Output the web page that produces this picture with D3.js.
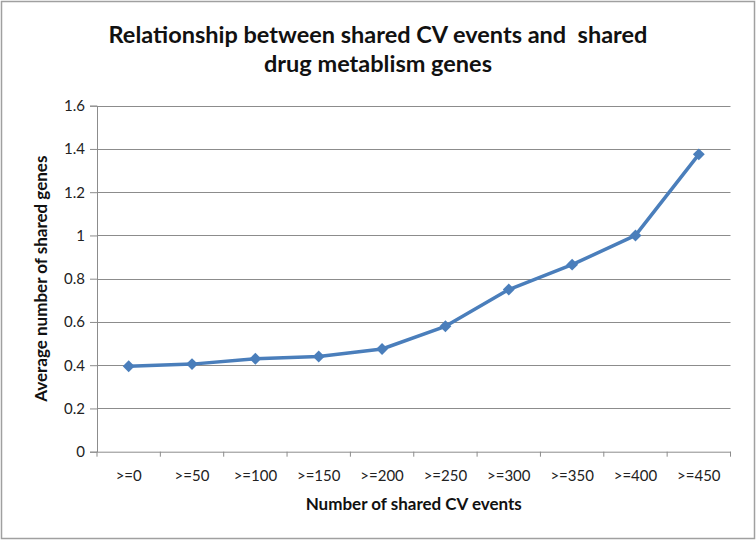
<!DOCTYPE html>
<html><head><meta charset="utf-8">
<script src="https://cdn.jsdelivr.net/npm/d3@7"></script>
<style>html,body{margin:0;padding:0;background:#fff;}svg{display:block;}</style>
</head><body>
<script>
const categories = [">=0", ">=50", ">=100", ">=150", ">=200", ">=250", ">=300", ">=350", ">=400", ">=450"];
const values = [0.395, 0.405, 0.43, 0.44, 0.475, 0.58, 0.75, 0.865, 1.0, 1.375];
const yTicks = [0, 0.2, 0.4, 0.6, 0.8, 1, 1.2, 1.4, 1.6];
const titleLines = ["Relationship between shared CV events and  shared", "drug metablism genes"];
const xTitle = "Number of shared CV events";
const yTitle = "Average number of shared genes";

const W = 756, H = 541;
const m = {left: 97, right: 25.5, top: 105.7, bottom: 89.3};
const font = "Lato, 'Open Sans', sans-serif";
const svg = d3.select("body").append("svg").attr("width", W).attr("height", H);
svg.append("rect").attr("x", 1.5).attr("y", 1.5).attr("width", W - 3).attr("height", H - 4)
  .attr("fill", "#fff").attr("stroke", "#a0a0a0").attr("stroke-width", 1.5);

const x = d3.scaleBand().domain(categories).range([m.left, W - m.right]);
const y = d3.scaleLinear().domain([0, 1.6]).range([H - m.bottom, m.top]);

// gridlines
svg.append("g").selectAll("line").data(yTicks.slice(1)).join("line")
  .attr("x1", m.left).attr("x2", W - m.right)
  .attr("y1", d => Math.round(y(d)) + 0.5).attr("y2", d => Math.round(y(d)) + 0.5)
  .attr("stroke", "#8c8c8c").attr("stroke-width", 1);

// y axis
const ya = svg.append("g").attr("transform", `translate(${m.left},0)`)
  .call(d3.axisLeft(y).tickValues(yTicks).tickFormat(d3.format("~g")).tickSize(7).tickPadding(5));
ya.select(".domain").attr("stroke", "#8c8c8c");
ya.selectAll(".tick line").attr("stroke", "#8c8c8c");
ya.selectAll("text").attr("font-family", font).attr("font-size", 15).attr("fill", "#222");

// x axis
const xa = svg.append("g").attr("transform", `translate(0,${H - m.bottom})`)
  .call(d3.axisBottom(x).tickSize(0).tickPadding(19));
xa.select(".domain").attr("stroke", "#8c8c8c");
xa.selectAll("text").attr("font-family", font).attr("font-size", 15).attr("fill", "#222");
const edges = categories.map(c => x(c)).concat([x(categories[categories.length - 1]) + x.bandwidth()]);
xa.append("g").selectAll("line").data(edges).join("line")
  .attr("x1", d => d).attr("x2", d => d).attr("y1", 0).attr("y2", 5).attr("stroke", "#8c8c8c");

// line
const cx = c => x(c) + x.bandwidth() / 2;
const data = categories.map((c, i) => ({c, v: values[i]}));
svg.append("path").datum(data)
  .attr("d", d3.line().x(d => cx(d.c)).y(d => y(d.v)))
  .attr("fill", "none").attr("stroke", "#4a7ebb").attr("stroke-width", 3.5).attr("stroke-linejoin", "round");
svg.append("g").selectAll("rect").data(data).join("rect")
  .attr("x", -4.2).attr("y", -4.2).attr("width", 8.4).attr("height", 8.4)
  .attr("transform", d => `translate(${cx(d.c)},${y(d.v)}) rotate(45)`)
  .attr("fill", "#4a7ebb");

// titles
svg.append("text").attr("text-anchor", "middle").attr("font-family", font).attr("font-weight", "bold")
  .attr("font-size", 23.5).attr("fill", "#111")
  .selectAll("tspan").data(titleLines).join("tspan")
  .attr("x", 378).attr("y", (d, i) => 43 + i * 29).style("white-space", "pre").text(d => d);

svg.append("text").attr("x", (m.left + W - m.right) / 2).attr("y", 510).attr("text-anchor", "middle")
  .attr("font-family", font).attr("font-weight", "bold").attr("font-size", 17).attr("fill", "#111").text(xTitle);
svg.append("text").attr("transform", `translate(47,${(m.top + H - m.bottom) / 2}) rotate(-90)`)
  .attr("text-anchor", "middle").attr("font-family", font).attr("font-weight", "bold").attr("font-size", 17)
  .attr("fill", "#111").text(yTitle);
</script>
</body></html>
